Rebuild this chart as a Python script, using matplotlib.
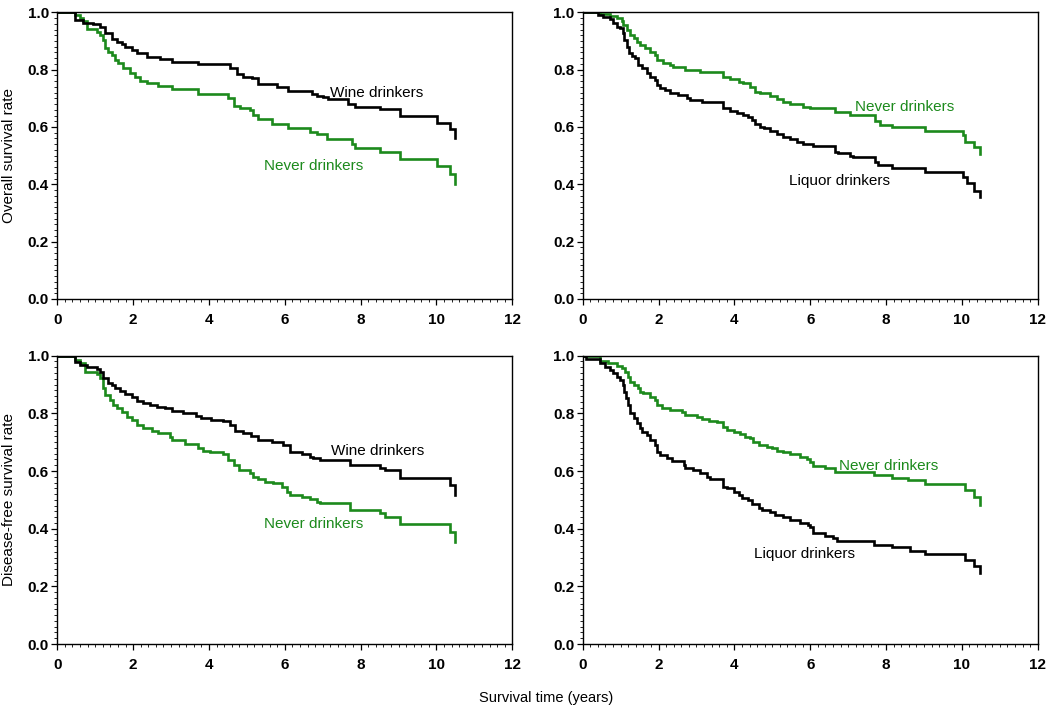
import matplotlib
matplotlib.use("Agg")
import matplotlib.pyplot as plt
from matplotlib.ticker import MultipleLocator

plt.rcParams['font.family'] = ['Liberation Sans', 'DejaVu Sans']

GREEN = '#1c8a1c'

# ---- Overall survival: wine vs never ----
os_wine_t = [0, 0.47, 0.69, 0.95, 1.13, 1.26, 1.43, 1.57, 1.70, 1.79, 1.96, 2.09, 2.36, 2.71, 3.02, 3.72,
             4.56, 4.73, 4.91, 5.13, 5.30, 5.79, 6.09, 6.71, 6.84, 7.02, 7.15, 7.68, 7.85, 8.51, 9.04,
             10.01, 10.36, 10.49]
os_wine_s = [1.0, 0.973, 0.964, 0.959, 0.950, 0.927, 0.906, 0.898, 0.889, 0.878, 0.868, 0.859, 0.845, 0.836,
             0.828, 0.819, 0.805, 0.785, 0.776, 0.770, 0.750, 0.738, 0.727, 0.715, 0.708, 0.703, 0.696,
             0.680, 0.669, 0.662, 0.638, 0.615, 0.592, 0.560]
os_never1_t = [0, 0.47, 0.60, 0.69, 0.78, 1.04, 1.13, 1.20, 1.26, 1.35, 1.43, 1.52, 1.61, 1.74, 1.92, 2.05,
               2.18, 2.36, 2.66, 3.02, 3.72, 4.51, 4.65, 4.82, 5.08, 5.17, 5.30, 5.65, 6.09, 6.67, 6.84,
               7.11, 7.77, 7.85, 8.51, 9.04, 10.01, 10.36, 10.49]
os_never1_s = [1.0, 0.991, 0.979, 0.971, 0.941, 0.932, 0.921, 0.903, 0.874, 0.863, 0.851, 0.834, 0.822,
               0.805, 0.787, 0.773, 0.761, 0.754, 0.743, 0.731, 0.715, 0.700, 0.673, 0.665, 0.659, 0.642,
               0.627, 0.610, 0.595, 0.584, 0.574, 0.557, 0.541, 0.526, 0.514, 0.488, 0.465, 0.436, 0.401]

# ---- Overall survival: liquor vs never ----
os_liq_t = [0, 0.41, 0.54, 0.72, 0.81, 0.90, 0.98, 1.05, 1.09, 1.16, 1.23, 1.29, 1.38, 1.47, 1.56, 1.69,
            1.78, 1.91, 1.97, 2.04, 2.17, 2.30, 2.52, 2.74, 2.83, 3.14, 3.71, 3.89, 4.06, 4.24, 4.37, 4.46,
            4.55, 4.68, 4.77, 4.94, 5.12, 5.29, 5.47, 5.65, 5.82, 6.08, 6.66, 6.74, 7.05, 7.14, 7.71, 7.80,
            8.15, 9.03, 10.04, 10.13, 10.31, 10.48]
os_liq_s = [1.0, 0.991, 0.983, 0.976, 0.962, 0.950, 0.945, 0.927, 0.903, 0.880, 0.857, 0.848, 0.839, 0.816,
            0.805, 0.789, 0.775, 0.764, 0.746, 0.735, 0.729, 0.720, 0.712, 0.700, 0.694, 0.686, 0.665,
            0.657, 0.650, 0.642, 0.636, 0.625, 0.610, 0.601, 0.595, 0.587, 0.575, 0.566, 0.557, 0.549,
            0.540, 0.532, 0.514, 0.508, 0.499, 0.494, 0.479, 0.468, 0.456, 0.444, 0.424, 0.406, 0.377, 0.357]
os_never2_t = [0, 0.45, 0.72, 0.90, 1.03, 1.07, 1.16, 1.25, 1.34, 1.43, 1.51, 1.65, 1.78, 1.91, 1.96, 2.13,
               2.30, 2.39, 2.70, 3.10, 3.71, 3.89, 4.11, 4.24, 4.41, 4.55, 4.68, 4.94, 5.12, 5.29, 5.47,
               5.82, 6.00, 6.66, 7.05, 7.71, 7.84, 8.15, 9.03, 10.04, 10.09, 10.31, 10.48]
os_never2_s = [1.0, 0.993, 0.987, 0.979, 0.971, 0.956, 0.938, 0.921, 0.909, 0.898, 0.886, 0.874, 0.863,
               0.851, 0.834, 0.824, 0.816, 0.810, 0.799, 0.793, 0.773, 0.766, 0.758, 0.752, 0.738, 0.723,
               0.717, 0.708, 0.696, 0.688, 0.680, 0.671, 0.667, 0.653, 0.642, 0.622, 0.607, 0.599, 0.587,
               0.572, 0.549, 0.529, 0.506]

# ---- Disease-free survival: wine vs never ----
dfs_wine_t = [0, 0.47, 0.60, 0.78, 1.04, 1.13, 1.21, 1.35, 1.43, 1.52, 1.65, 1.79, 1.96, 2.09, 2.27, 2.44,
              2.62, 2.84, 3.02, 3.31, 3.66, 3.80, 4.06, 4.37, 4.55, 4.68, 4.90, 5.12, 5.30, 5.65, 5.96,
              6.13, 6.45, 6.67, 6.75, 6.93, 7.72, 8.51, 8.64, 9.04, 10.36, 10.49]
dfs_wine_s = [1.0, 0.979, 0.968, 0.962, 0.954, 0.944, 0.921, 0.907, 0.898, 0.887, 0.877, 0.866, 0.858,
              0.843, 0.835, 0.829, 0.823, 0.817, 0.808, 0.800, 0.792, 0.783, 0.777, 0.774, 0.760, 0.739,
              0.731, 0.723, 0.708, 0.700, 0.690, 0.667, 0.658, 0.650, 0.644, 0.638, 0.621, 0.612, 0.604,
              0.577, 0.552, 0.517]
dfs_never1_t = [0, 0.47, 0.60, 0.73, 1.04, 1.13, 1.21, 1.26, 1.39, 1.48, 1.57, 1.70, 1.83, 1.96, 2.09,
                2.27, 2.49, 2.66, 2.97, 3.02, 3.37, 3.72, 3.85, 4.03, 4.38, 4.51, 4.65, 4.78, 5.08, 5.17,
                5.30, 5.48, 5.70, 5.92, 6.05, 6.13, 6.45, 6.67, 6.84, 6.93, 7.72, 8.51, 8.64, 9.04,
                10.36, 10.49]
dfs_never1_s = [1.0, 0.986, 0.974, 0.945, 0.936, 0.921, 0.887, 0.864, 0.846, 0.829, 0.817, 0.806, 0.789,
                0.777, 0.760, 0.748, 0.739, 0.731, 0.719, 0.708, 0.693, 0.679, 0.670, 0.665, 0.658,
                0.638, 0.621, 0.604, 0.592, 0.580, 0.572, 0.563, 0.557, 0.546, 0.528, 0.517, 0.511,
                0.503, 0.494, 0.488, 0.465, 0.453, 0.442, 0.415, 0.390, 0.355]

# ---- Disease-free survival: liquor vs never ----
dfs_liq_t = [0, 0.08, 0.45, 0.58, 0.72, 0.81, 0.90, 0.98, 1.05, 1.10, 1.14, 1.20, 1.25, 1.34, 1.43, 1.51,
             1.56, 1.69, 1.78, 1.91, 1.96, 2.04, 2.22, 2.35, 2.66, 2.70, 2.92, 3.10, 3.27, 3.36, 3.71,
             3.80, 3.98, 4.11, 4.20, 4.37, 4.46, 4.64, 4.72, 4.94, 5.07, 5.29, 5.47, 5.73, 5.95, 6.00,
             6.08, 6.39, 6.61, 6.70, 7.67, 8.15, 8.64, 9.03, 10.09, 10.31, 10.48]
dfs_liq_s = [1.0, 0.990, 0.973, 0.962, 0.950, 0.939, 0.927, 0.916, 0.898, 0.875, 0.852, 0.829, 0.800,
             0.783, 0.765, 0.748, 0.737, 0.725, 0.708, 0.690, 0.667, 0.656, 0.644, 0.635, 0.621, 0.609,
             0.604, 0.592, 0.580, 0.571, 0.546, 0.540, 0.528, 0.517, 0.505, 0.500, 0.485, 0.471, 0.465,
             0.457, 0.448, 0.439, 0.430, 0.419, 0.413, 0.407, 0.384, 0.376, 0.367, 0.357, 0.344, 0.338,
             0.323, 0.311, 0.292, 0.272, 0.245]
dfs_never2_t = [0, 0.45, 0.67, 0.90, 1.03, 1.12, 1.20, 1.25, 1.34, 1.47, 1.51, 1.60, 1.78, 1.91, 1.96,
                2.09, 2.30, 2.61, 2.70, 3.01, 3.14, 3.32, 3.54, 3.71, 3.80, 3.98, 4.15, 4.28, 4.41, 4.50,
                4.64, 4.85, 4.99, 5.12, 5.29, 5.47, 5.73, 5.91, 6.00, 6.08, 6.39, 6.66, 7.67, 8.15, 8.59,
                9.03, 10.09, 10.31, 10.48]
dfs_never2_s = [1.0, 0.982, 0.973, 0.965, 0.958, 0.944, 0.927, 0.910, 0.898, 0.887, 0.875, 0.869, 0.858,
                0.846, 0.829, 0.820, 0.812, 0.806, 0.794, 0.788, 0.780, 0.774, 0.769, 0.754, 0.742, 0.734,
                0.727, 0.719, 0.713, 0.702, 0.690, 0.685, 0.679, 0.670, 0.665, 0.658, 0.650, 0.642, 0.633,
                0.619, 0.612, 0.598, 0.586, 0.577, 0.569, 0.554, 0.534, 0.511, 0.482]

x_ticks = [0, 2, 4, 6, 8, 10, 12]
y_ticks = [0.0, 0.2, 0.4, 0.6, 0.8, 1.0]
y_labels = ["Overall survival rate", "Disease-free survival rate"]
x_label = "Survival time (years)"

fig = plt.figure(figsize=(10.5, 7.08), dpi=100)

W = 455 / 1050
lefts = [57.3 / 1050, 582.7 / 1050]
rows = [(12.3, 299.0), (355.7, 644.0)]

panels = [
    (0, 0, (os_wine_t, os_wine_s), (os_never1_t, os_never1_s),
     "Wine drinkers", (7.2, 0.72), "Never drinkers", (5.44, 0.465)),
    (0, 1, (os_liq_t, os_liq_s), (os_never2_t, os_never2_s),
     "Liquor drinkers", (5.43, 0.412), "Never drinkers", (7.18, 0.669)),
    (1, 0, (dfs_wine_t, dfs_wine_s), (dfs_never1_t, dfs_never1_s),
     "Wine drinkers", (7.21, 0.669), "Never drinkers", (5.44, 0.415)),
    (1, 1, (dfs_liq_t, dfs_liq_s), (dfs_never2_t, dfs_never2_s),
     "Liquor drinkers", (4.53, 0.311), "Never drinkers", (6.77, 0.618)),
]

for r, c, blk, grn, blab, bpos, glab, gpos in panels:
    top, bot = rows[r]
    ax = fig.add_axes([lefts[c], 1 - bot / 708, W, (bot - top) / 708])
    ax.step(grn[0], grn[1], where='post', color=GREEN, lw=1.9, solid_joinstyle='miter')
    ax.step(blk[0], blk[1], where='post', color='black', lw=1.9, solid_joinstyle='miter')
    ax.set_xlim(0, 12)
    ax.set_ylim(0, 1.0)
    ax.set_xticks(x_ticks)
    ax.set_yticks(y_ticks)
    ax.set_yticklabels([f"{v:.1f}" for v in y_ticks])
    ax.xaxis.set_minor_locator(MultipleLocator(0.2))
    ax.yaxis.set_minor_locator(MultipleLocator(0.02))
    ax.tick_params(which='major', direction='out', length=4, width=0.9, pad=2,
                   labelsize=11)
    ax.tick_params(axis='x', which='major', pad=6)
    ax.tick_params(which='minor', direction='out', length=2.2, width=0.6)
    for lab in ax.get_xticklabels() + ax.get_yticklabels():
        lab.set_fontweight('bold')
    for sp in ax.spines.values():
        sp.set_linewidth(1.0)
    ax.text(bpos[0], bpos[1], blab, color='black', fontsize=11, ha='left', va='center')
    ax.text(gpos[0], gpos[1], glab, color=GREEN, fontsize=11, ha='left', va='center')
    if c == 0:
        fig.text(0.009, 1 - (top + bot) / 2 / 708, y_labels[r], rotation=90,
                 ha='center', va='center', fontsize=11)

fig.text(546 / 1050, 1 - 698 / 708, x_label, ha='center', va='center', fontsize=10.5)

fig.savefig("out.png", dpi=100)
